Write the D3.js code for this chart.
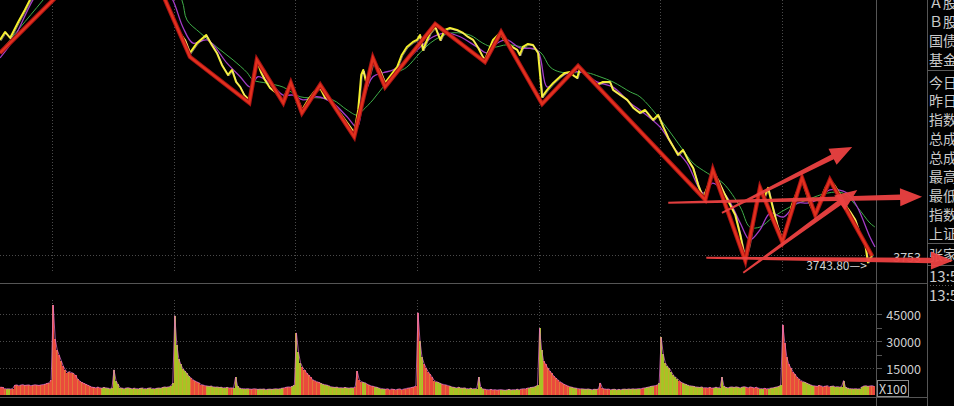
<!DOCTYPE html>
<html><head><meta charset="utf-8">
<script src="https://cdn.jsdelivr.net/npm/d3@7"></script>
<style>html,body{margin:0;padding:0;background:#000;overflow:hidden}</style>
</head><body><svg id="c" width="954" height="406"></svg>
<script>
// ---------------- data ----------------
const dayStarts = [0, 240, 480, 720, 960, 1200, 1440];   // minute index of each session open
const priceTicks = [3753];
const volTicks = [15000, 30000, 45000];
const volTickLabels = ["15000", "30000", "45000"];
const volMinorTicks = [7500, 22500, 37500];
const lowPoint = {t: 1610, v: 3743.80, label: "3743.80"};

// intraday price path [minute, index]
const price = [[-103,4022],[-93,4032],[-83,4024.5],[-67,4044.5],[-54,4059.5],[-44,4072],[-14,4103],[35,4128],[94,4141],[154,4128],[203,4097],[223,4072],[238,4050.8],[252,4030.8],[262,4022],[272,4005.8],[286,4018.3],[304,4028.3],[315,4015.8],[325,4005.8],[335,3990.8],[347,3978.3],[355,3984.5],[363,3969.5],[371,3963.3],[379,3953.3],[389,3947],[396,3972],[404,3997],[412,3982],[420,3972],[430,3962],[440,3957],[450,3949.5],[456,3947],[464,3959.5],[471,3968.3],[481,3953.3],[493,3934.5],[505,3947],[517,3957],[529,3962],[539,3949.5],[548,3947],[568,3930.8],[588,3913.3],[596,3905.8],[604,3934.5],[610,3978.3],[614,3984.5],[621,3965.8],[633,3993.3],[647,3984.5],[657,3968.3],[669,3978.3],[681,3988.3],[690,4003.3],[700,4013.3],[712,4019.5],[720,4022],[726,4028.3],[732,4009.5],[740,4022],[746,4030.8],[756,4038.3],[766,4022],[775,4034.5],[785,4037],[799,4034.5],[811,4030.8],[821,4025.8],[831,4022],[841,4012],[850,4000.8],[854,3997],[862,4009.5],[870,4022],[884,4030.8],[892,4022],[898,4018.3],[908,4013.3],[918,4009.5],[923,4003.3],[929,4013.3],[939,4017],[949,4015.8],[959,4005.8],[967,3950.8],[977,3959.5],[989,3968.3],[1002,3975.8],[1012,3980.8],[1022,3982],[1030,3977],[1036,3974.5],[1042,3987],[1056,3978.3],[1066,3972],[1075,3965.8],[1087,3969.5],[1101,3969.5],[1107,3959.5],[1121,3953.3],[1135,3947],[1147,3937],[1160,3930.8],[1170,3934.5],[1186,3922],[1196,3928.3],[1206,3913.3],[1216,3899.5],[1226,3888.3],[1235,3878.3],[1245,3884.5],[1255,3872],[1265,3862],[1275,3840.8],[1285,3824.5],[1295,3840.8],[1304,3859.5],[1314,3847],[1328,3828.3],[1338,3815.8],[1348,3803.3],[1358,3778.3],[1368,3747],[1376,3765.8],[1381,3784.5],[1389,3815.8],[1397,3834.5],[1405,3824.5],[1413,3837],[1421,3815.8],[1431,3790.8],[1441,3772],[1451,3790.8],[1460,3815.8],[1470,3832],[1480,3847],[1488,3832],[1496,3815.8],[1506,3803.3],[1516,3822],[1526,3837],[1535,3847],[1545,3839.5],[1555,3828.3],[1565,3815.8],[1575,3807],[1585,3797],[1595,3778.3],[1605,3765.8],[1610,3743.8],[1618,3753]];

// moving averages [minute, index]
const maFast = [[-103,3999.5],[-77,4022],[-38,4072],[15,4122],[94,4147],[173,4128],[223,4084.5],[238,4072],[258,4038],[278,4018],[306,4022],[345,3993],[371,3976],[391,3963],[406,3976],[430,3968],[456,3953],[475,3953],[495,3947],[523,3951],[554,3943],[582,3926],[602,3913],[614,3947],[633,3976],[653,3981],[673,3984.5],[700,3997],[726,4013],[752,4026],[779,4031],[805,4026],[839,4013],[858,4006],[878,4018],[898,4022],[923,4012],[957,4009.5],[977,3963],[1002,3976],[1028,3982],[1048,3981],[1075,3969.5],[1107,3963],[1141,3943],[1160,3934.5],[1200,3913],[1226,3888],[1253,3868],[1285,3830.5],[1304,3843],[1332,3825.5],[1358,3793],[1377,3772],[1397,3784.5],[1417,3805.5],[1443,3800.5],[1470,3818],[1490,3818],[1510,3822],[1535,3834.5],[1569,3830.5],[1589,3813],[1614,3775.5],[1624,3763]];
const maSlow = [[-103,4007],[-64,4037],[-18,4072],[55,4128],[134,4147],[213,4122],[256,4072],[266,4047],[292,4031],[325,4013],[357,3997],[385,3981],[396,3972],[424,3968],[456,3963],[489,3951],[529,3949.5],[554,3947],[582,3934.5],[602,3928],[614,3934.5],[633,3947],[653,3963],[681,3981],[700,3988],[726,4006],[746,4018],[766,4026],[791,4031],[825,4028],[850,4018],[870,4013],[898,4016],[929,4013],[963,4007],[983,3988],[1002,3982],[1028,3981],[1056,3981],[1081,3976],[1107,3969.5],[1141,3957],[1160,3951],[1206,3918],[1245,3884.5],[1265,3868],[1293,3855.5],[1324,3843],[1358,3813],[1377,3788],[1397,3788],[1423,3800.5],[1456,3813],[1490,3822],[1530,3830.5],[1561,3830.5],[1589,3813],[1614,3793],[1624,3788]];

// hand-drawn red zigzag [minute, index]
const zigzag = [[-103,4005.8],[156,4169.5],[272,4000.8],[389,3943.3],[404,3997],[456,3943.3],[471,3968.3],[493,3930.8],[529,3965.8],[596,3900.8],[633,3999.5],[657,3963.3],[756,4042],[854,3994.5],[886,4032],[967,3942],[1038,3989.5],[1289,3822],[1304,3859.5],[1368,3746],[1397,3837],[1441,3769.5],[1480,3849.5],[1506,3803.3],[1535,3847],[1618,3752]];

// hand-drawn arrows [[minute, index],[minute, index]]
const arrows = [
  [[1322,3805.8],[1579,3888.3]],
  [[1216,3818.3],[1717,3825.8]],
  [[1364,3730.8],[1589,3834.5]],
  [[1291,3749.5],[1778,3745.8]]
];

// volume per 4-minute bar, in thousands
const volPrev = [4.4,4.2,3.6,3.4,3.5,3.3,3.6,5.4,5.6,5.2,5.5,5.8,5.3,5.5,5.6,5.2,5.4,5.7,5.5,5.3,5.6,5.8,6.0,6.4,6.8,8.5];
const volDay0 = [50,31,25,22,19,16,14,12.5,13,12.5,12,11,9,8,7,6.5,6,5.5,5,4.4,4.2,4.0,4.4,4.0,3.8,4.2,4.0,3.8,3.6,3.9,14,8,6,4.0,3.8,3.6,3.9,4.1,3.7,3.5,3.8,3.6,3.4,3.7,3.9,3.6,3.5,3.8,4.0,3.6,3.5,3.7,3.9,3.8,4.2,4.5,4.3,4.6,5.0,6.5];
const volDay1 = [44,28,20,17,14.5,13.5,12,10.5,9.5,8.5,7.8,7.2,6.8,5.8,5.5,5.2,5.0,4.8,5.0,4.6,4.4,4.5,4.2,4.3,4.0,4.1,4.2,3.9,4.0,3.8,10,5,3.8,3.6,3.5,3.4,3.6,3.3,3.2,3.5,3.4,3.1,3.3,3.2,3.4,3.0,3.2,3.3,3.1,3.4,3.5,3.3,3.6,3.8,4.0,4.3,4.5,4.4,4.8,5.5];
const volDay2 = [34.5,24,18,15.5,14,12.5,11,10,8.5,8,7.5,7,6.5,6,5.8,5.5,5.2,4.6,4.4,4.2,4.4,4.0,4.1,3.9,4.2,4.0,3.8,4.1,4.0,4.5,13.3,8.5,7.5,7,6.8,6,5.5,5,4.8,4.5,4.2,3.8,3.6,3.4,3.2,3.5,3.0,3.3,3.1,2.9,3.2,3.4,3.0,3.3,3.6,3.8,4.0,4.2,4.5,5.2];
const volDay3 = [45.7,30,21,17.5,15,13,11.5,10,8,7.5,7,6.5,6,5.8,5.5,5.2,4.8,4.4,4.2,4.0,4.3,3.9,3.8,4.0,3.6,3.5,3.8,3.4,3.6,3.5,10,4.5,3.4,3.2,3.0,2.9,3.1,2.8,3.0,2.7,2.9,3.0,2.8,2.6,2.9,3.1,2.8,3.0,2.9,3.2,3.0,3.3,3.5,3.4,3.8,4.0,4.2,4.4,4.8,5.5];
const volDay4 = [37,25,19,17,15,13.5,12,10.5,9.5,8.5,7.5,6.8,6,5.5,5,4.6,4.3,4.0,3.8,3.6,3.4,3.5,3.3,3.2,3.4,3.1,3.0,3.2,3.1,3.3,6.7,3.8,3.4,3.2,3.3,3.0,3.1,3.2,2.9,3.1,3.0,3.2,3.3,3.1,3.4,3.2,3.5,3.3,3.4,3.6,3.5,3.8,4.0,4.2,4.5,4.8,5.0,5.2,5.5,6.5];
const volDay5 = [32,23,18,16,15,13,11,10,9,8,7,6.5,6,5.5,5.2,5,4.8,4.5,4.4,4.2,4.5,4.0,4.1,3.9,4.2,3.8,4.0,4.3,4.1,3.9,10,4.8,4.2,4.0,4.4,4.5,4.2,4.6,4.3,4.0,4.4,4.7,4.3,4.1,4.5,4.2,4.0,4.3,3.8,3.6,3.5,3.7,3.4,3.6,3.8,4.0,4.2,4.5,4.8,5.5];
const volDay6 = [39,29,21,17,15,13,11.5,10,9,8,7.5,7,6.5,6,5.5,5.2,5.0,4.8,5.3,5.0,4.7,4.9,5.2,4.6,4.8,5.0,4.5,4.7,4.4,4.6,8,4.2,3.8,3.6,3.5,3.4,3.6,3.3,3.5,4.5,5.0,5.2,4.8,5.0,5.2,4.8];

const panelTop = ["Ａ股", "Ｂ股", "国债", "基金"];
const panelMid = ["今日", "昨日", "指数", "总成", "总成", "最高", "最低", "指数", "上证"];
const panelBot = ["张家", "13:5", "13:5"];

// ---------------- layout ----------------
const plotR = 876, panelL = 927, mainB = 283, volB = 397;
const svg = d3.select("#c");
svg.append("rect").attr("width", 954).attr("height", 406).attr("fill", "#000");

const x = d3.scaleLinear().domain([-103, 1626]).range([0, plotR]);
const y = d3.scaleLinear().domain([3718, 4072]).range([mainB, 0]);
const yv = d3.scaleLinear().domain([0, 45000]).range([395, 314]);

const gridCol = "#4a4a4a", frameCol = "#555";

// dotted grid
const grid = svg.append("g").attr("stroke", gridCol).attr("stroke-dasharray", "1,2").attr("shape-rendering", "crispEdges");
dayStarts.forEach(t => {
  const xx = Math.round(x(t)) + 0.5;
  grid.append("line").attr("x1", xx).attr("x2", xx).attr("y1", 0).attr("y2", 272);
  grid.append("line").attr("x1", xx).attr("x2", xx).attr("y1", 300).attr("y2", 396);
});
priceTicks.forEach(v => grid.append("line").attr("x1", 0).attr("x2", plotR).attr("y1", Math.round(y(v)) + 0.5).attr("y2", Math.round(y(v)) + 0.5));
volTicks.forEach(v => grid.append("line").attr("x1", 0).attr("x2", plotR).attr("y1", Math.round(yv(v)) + 0.5).attr("y2", Math.round(yv(v)) + 0.5));

// volume bars
const vols = [];
volPrev.forEach((v, j) => vols.push({t: -240 + 4 * (60 - volPrev.length + j), v: v * 1000}));
[volDay0, volDay1, volDay2, volDay3, volDay4, volDay5, volDay6].forEach((arr, d) =>
  arr.forEach((v, j) => vols.push({t: dayStarts[d] + 4 * j, v: v * 1000})));
const pInterp = d3.scaleLinear().domain(price.map(d => d[0])).range(price.map(d => d[1])).clamp(true);
const gv = svg.append("g").attr("shape-rendering", "crispEdges");
gv.selectAll("rect").data(vols).join("rect")
  .attr("x", d => x(d.t))
  .attr("width", d => x(d.t + 4) - x(d.t))
  .attr("y", d => yv(d.v))
  .attr("height", d => yv(0) - yv(d.v))
  .attr("fill", d => pInterp(d.t + 4) >= pInterp(d.t) ? "#ea4a3c" : "#a6c524");
// thin orange stripes between bars (blended edges seen in the screen capture)
gv.selectAll("line").data(vols.filter((d, i) => i % 2 === 0)).join("line")
  .attr("x1", d => Math.round(x(d.t)) + 0.5).attr("x2", d => Math.round(x(d.t)) + 0.5)
  .attr("y1", d => yv(d.v)).attr("y2", yv(0))
  .attr("stroke", "#dc9a36").attr("stroke-width", 1).attr("opacity", 0.55);
svg.append("path").datum(vols)
  .attr("d", d3.line().x(d => x(d.t + 2)).y(d => yv(d.v)))
  .attr("fill", "none").attr("stroke", "#e070c8").attr("stroke-width", 1).attr("opacity", 0.75);

// main chart
svg.append("clipPath").attr("id", "clipMain").append("rect").attr("x", 0).attr("y", 0).attr("width", plotR).attr("height", mainB);
const gm = svg.append("g").attr("clip-path", "url(#clipMain)");
const lineP = d3.line().x(d => x(d[0])).y(d => y(d[1]));
const lineS = d3.line().x(d => x(d[0])).y(d => y(d[1])).curve(d3.curveCatmullRom);
gm.append("path").attr("d", lineS(maSlow)).attr("fill", "none").attr("stroke", "#3fae48").attr("stroke-width", 1);
gm.append("path").attr("d", lineS(maFast)).attr("fill", "none").attr("stroke", "#a43cc8").attr("stroke-width", 1.3);
gm.append("path").attr("d", lineP(price)).attr("fill", "none").attr("stroke", "#f4f02a").attr("stroke-width", 2).attr("stroke-linejoin", "round");
gm.append("path").attr("d", lineP(price)).attr("transform", "translate(1,1)").attr("fill", "none").attr("stroke", "#f6dcd0").attr("stroke-width", 0.8).attr("opacity", 0.6);
gm.append("path").attr("d", lineP(zigzag)).attr("fill", "none").attr("stroke", "#a81414").attr("stroke-width", 4.4).attr("stroke-linejoin", "miter");
gm.append("path").attr("d", lineP(zigzag)).attr("fill", "none").attr("stroke", "#e2301e").attr("stroke-width", 2.4).attr("stroke-linejoin", "miter");

// frame lines
const fr = svg.append("g").attr("stroke", frameCol).attr("shape-rendering", "crispEdges");
fr.append("line").attr("x1", 0).attr("x2", panelL).attr("y1", mainB + 0.5).attr("y2", mainB + 0.5);
fr.append("line").attr("x1", 0).attr("x2", panelL).attr("y1", volB + 0.5).attr("y2", volB + 0.5);
fr.append("line").attr("x1", plotR + 0.5).attr("x2", plotR + 0.5).attr("y1", 0).attr("y2", 406);
fr.append("line").attr("x1", panelL + 0.5).attr("x2", panelL + 0.5).attr("y1", 0).attr("y2", 406);
volTicks.concat(volMinorTicks).forEach(v =>
  fr.append("line").attr("x1", plotR).attr("x2", plotR + 6).attr("y1", Math.round(yv(v)) + 0.5).attr("y2", Math.round(yv(v)) + 0.5));

// axis labels
const numFont = "'Noto Sans CJK SC', 'Noto Sans', sans-serif";
priceTicks.forEach(v => svg.append("text").attr("x", 921).attr("y", y(v) + 1).attr("text-anchor", "end")
  .attr("dominant-baseline", "central").attr("fill", "#cfcfcf").attr("font-family", numFont).attr("font-size", 12.5).text(String(v)));
volTicks.forEach((v, i) => svg.append("text").attr("x", 921).attr("y", yv(v)).attr("text-anchor", "end")
  .attr("dominant-baseline", "central").attr("fill", "#cfcfcf").attr("font-family", numFont).attr("font-size", 12.5).text(volTickLabels[i]));
svg.append("rect").attr("x", plotR + 1.5).attr("y", 380.5).attr("width", 31).attr("height", 16)
  .attr("fill", "#000").attr("stroke", "#8a8a8a");
svg.append("text").attr("x", plotR + 17).attr("y", 388.5).attr("text-anchor", "middle").attr("dominant-baseline", "central")
  .attr("fill", "#d0d0d0").attr("font-family", numFont).attr("font-size", 12.5).text("X100");
svg.append("text").attr("x", x(lowPoint.t) - 1).attr("y", y(lowPoint.v) + 2.5).attr("text-anchor", "end")
  .attr("dominant-baseline", "central").attr("fill", "#d4d4d4").attr("font-family", numFont).attr("font-size", 12)
  .text(lowPoint.label + "—>");

// right info panel
const pg = svg.append("g").attr("fill", "#cacaca").attr("font-family", "'Noto Sans CJK SC', sans-serif").attr("font-size", 14);
panelTop.forEach((s, i) => pg.append("text").attr("x", 929).attr("y", 1.5 + 19 * i).attr("dominant-baseline", "central").text(s));
panelMid.forEach((s, i) => pg.append("text").attr("x", 929).attr("y", 81.5 + 18.9 * i).attr("dominant-baseline", "central").text(s));
[254, 275, 294].forEach((yy, i) => pg.append("text").attr("x", 929).attr("y", yy).attr("dominant-baseline", "central")
  .attr("font-size", i === 0 ? 14 : 15).text(panelBot[i]));
const ps = svg.append("g").attr("stroke", "#5a5a5a").attr("shape-rendering", "crispEdges");
[70, 243, 265].forEach(yy => ps.append("line").attr("x1", panelL).attr("x2", 954).attr("y1", yy + 0.5).attr("y2", yy + 0.5));
ps.append("line").attr("x1", panelL).attr("x2", 954).attr("y1", 285.5).attr("y2", 285.5).attr("stroke-dasharray", "1,2");

// arrows
const ga = svg.append("g").attr("fill", "#ec4242").attr("opacity", 0.95);
arrows.forEach(a => {
  const x1 = x(a[0][0]), y1 = y(a[0][1]), x2 = x(a[1][0]), y2 = y(a[1][1]);
  const dx = x2 - x1, dy = y2 - y1, L = Math.hypot(dx, dy);
  const ux = dx / L, uy = dy / L, nx = -uy, ny = ux;
  const hl = 22, hw = 9, w0 = 1, w1 = 2.7;
  const bx = x2 - ux * hl, by = y2 - uy * hl;
  const pts = [
    [x1 + nx * w0, y1 + ny * w0], [bx + nx * w1, by + ny * w1], [bx + nx * hw, by + ny * hw], [x2, y2],
    [bx - nx * hw, by - ny * hw], [bx - nx * w1, by - ny * w1], [x1 - nx * w0, y1 - ny * w0]
  ];
  ga.append("path").attr("d", "M" + pts.map(p => p[0].toFixed(1) + "," + p[1].toFixed(1)).join("L") + "Z");
});
</script></body></html>
